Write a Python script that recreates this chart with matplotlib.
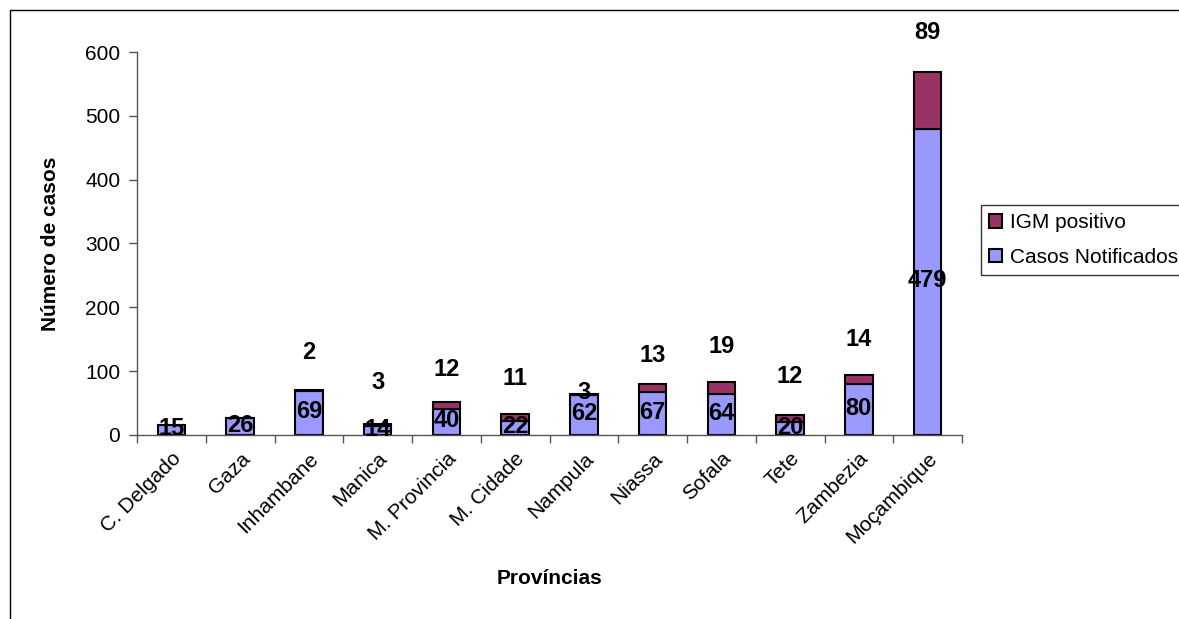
import matplotlib
matplotlib.use("Agg")
import matplotlib.pyplot as plt
from matplotlib.patches import Rectangle
from matplotlib.transforms import ScaledTranslation
import numpy as np

# data
provincias = ['C. Delgado', 'Gaza', 'Inhambane', 'Manica', 'M. Provincia', 'M. Cidade',
              'Nampula', 'Niassa', 'Sofala', 'Tete', 'Zambezia', 'Moçambique']
casos_notificados = [15, 26, 69, 14, 40, 22, 62, 67, 64, 20, 80, 479]
igm_positivo = [0, 0, 2, 3, 12, 11, 3, 13, 19, 12, 14, 89]

plt.rcParams['font.family'] = ['Liberation Sans', 'DejaVu Sans']

fig = plt.figure(figsize=(11.79, 6.19), dpi=100)
ax = fig.add_axes([137 / 1179, 1 - 435 / 619, (962 - 137) / 1179, (435 - 52) / 619])

x = np.arange(len(provincias))
w = 0.4
b1 = ax.bar(x, casos_notificados, w, color='#9999FF', edgecolor='black', linewidth=1.5,
            label='Casos Notificados', zorder=2)
b2 = ax.bar(x, igm_positivo, w, bottom=casos_notificados, color='#993366', edgecolor='black',
            linewidth=1.5, label='IGM positivo', zorder=2)

# data labels
for i, v in enumerate(casos_notificados):
    ax.text(x[i], v / 2 + 2, str(v), ha='center', va='center', fontsize=17,
            fontweight='bold', zorder=3)

# gap above the stack where the top labels sit (as in the original)
gap = [0, 0, 59, 66, 50, 55, 2, 45, 56, 60, 56, 62]
for i, v in enumerate(igm_positivo):
    if v == 0:
        continue
    top = casos_notificados[i] + v
    ax.text(x[i], top + gap[i], str(v), ha='center', va='center', fontsize=17,
            fontweight='bold', zorder=3)

ax.set_xlim(-0.5, len(provincias) - 0.5)
ax.set_ylim(0, 600)
ax.set_yticks(range(0, 601, 100))
ax.set_xticks(x)
ax.set_xticklabels(provincias, rotation=45, ha='right', rotation_mode='anchor', fontsize=15)
shift = ScaledTranslation(-7 / 100, -3 / 100, fig.dpi_scale_trans)
for lab in ax.get_xticklabels():
    lab.set_transform(lab.get_transform() + shift)
ax.set_xticks(np.arange(-0.5, len(provincias), 1), minor=True)
ax.tick_params(axis='x', which='major', length=0, pad=10)
ax.tick_params(axis='x', which='minor', length=6, width=1, color='#555555', direction='out')
ax.tick_params(axis='y', length=6, width=1, color='#555555', labelsize=15, pad=6)

for s in ['top', 'right']:
    ax.spines[s].set_visible(False)
for s in ['left', 'bottom']:
    ax.spines[s].set_color('#555555')
    ax.spines[s].set_linewidth(1)

ax.set_ylabel('Número de casos', fontsize=15, fontweight='bold', labelpad=18)
ax.set_xlabel('Províncias', fontsize=15, fontweight='bold', labelpad=16)

leg = ax.legend(handles=[b2, b1], labels=['IGM positivo', 'Casos Notificados'],
                loc='upper left', bbox_to_anchor=(981 / 1179, 1 - 205 / 619),
                bbox_transform=fig.transFigure, frameon=True, fancybox=False,
                fontsize=15, handlelength=0.6, handleheight=0.6, handletextpad=0.4,
                borderpad=0.4, labelspacing=0.75, borderaxespad=0)
leg.get_frame().set_edgecolor('black')
leg.get_frame().set_linewidth(1)

# outer chart frame
fig.patches.append(Rectangle((10 / 1179, -0.1), 1.2, 1.1 - 10 / 619, transform=fig.transFigure,
                             fill=False, edgecolor='black', linewidth=1))

fig.savefig('out.png', dpi=100)
